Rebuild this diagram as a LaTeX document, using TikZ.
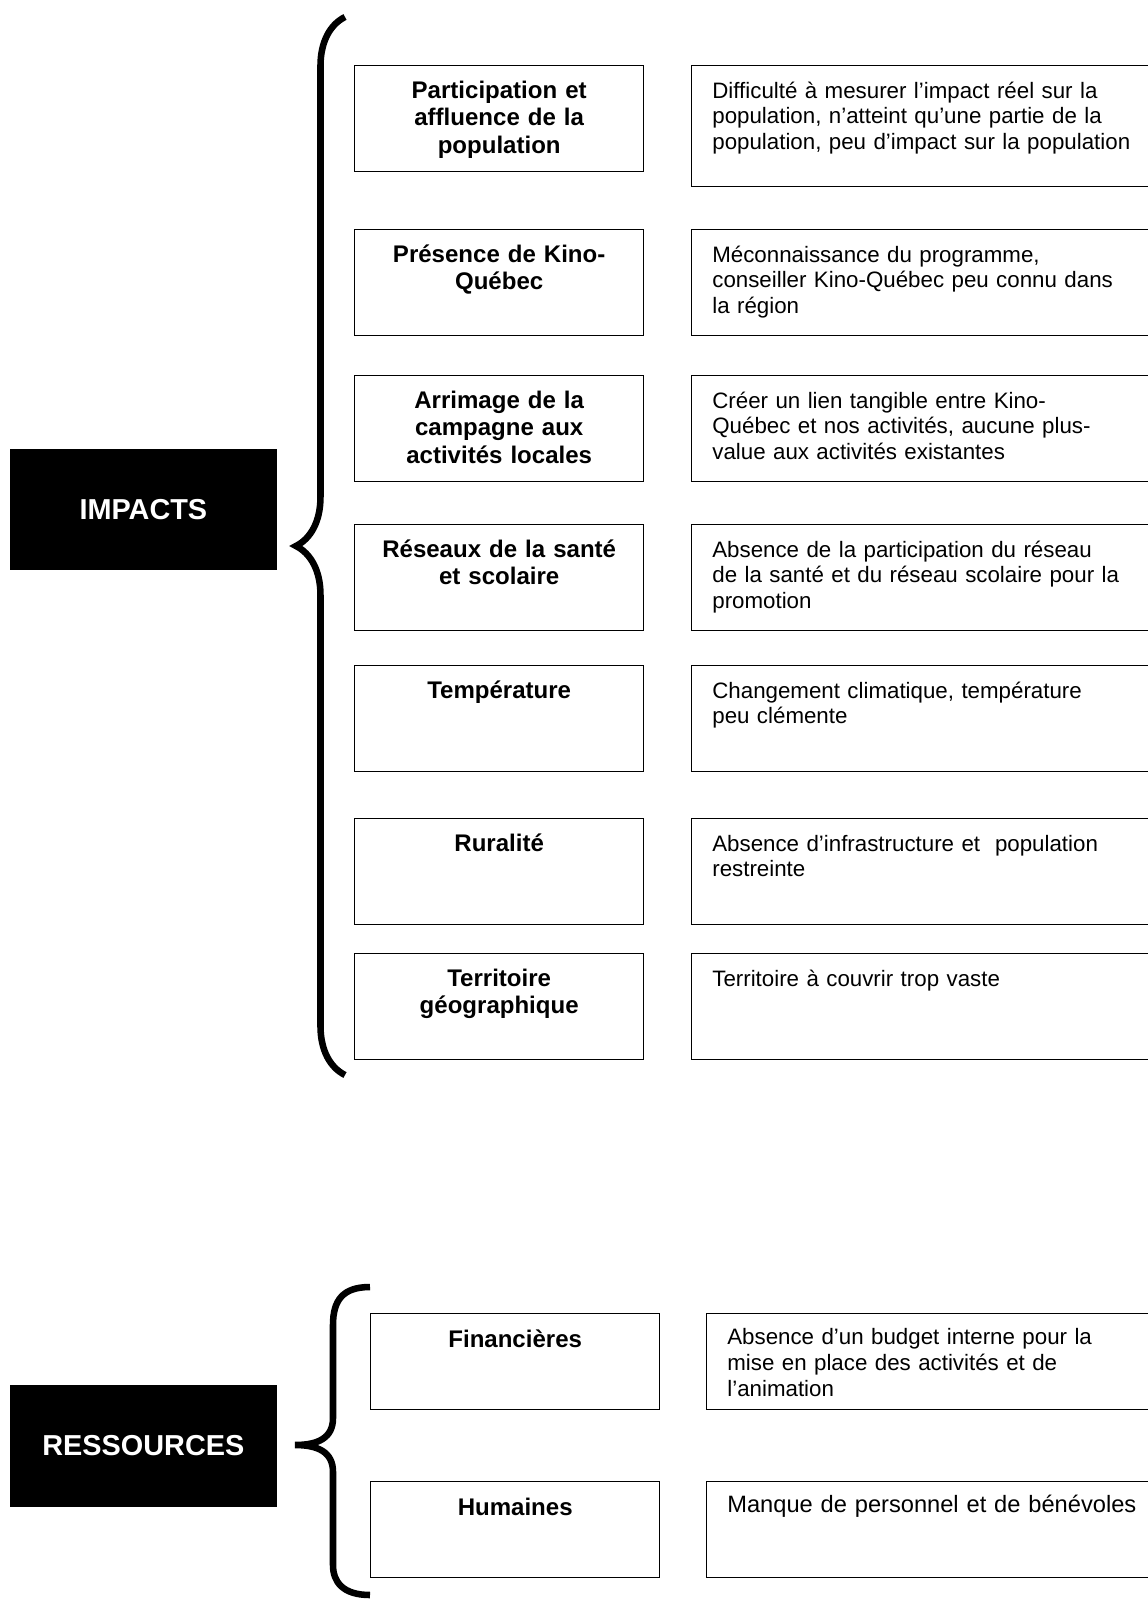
\documentclass[tikz,border=0pt]{standalone}
\usepackage{fontspec}
\setmainfont{Liberation Sans}
\usetikzlibrary{positioning, decorations.pathreplacing}

\begin{document}
\begin{tikzpicture}[
  x=0.52pt, y=-0.52pt,
  catbox/.style={rectangle, fill=black, draw=black, anchor=north west,
             minimum width=138.3pt, minimum height=62.4pt, inner sep=0pt,
             text=white, font=\fontsize{15}{18}\selectfont\bfseries},
  labbox/.style={rectangle, draw=black, line width=0.7pt, anchor=north west,
             minimum width=150.3pt, minimum height=55.1pt, inner sep=0pt},
  descbox/.style={labbox, minimum width=244pt},
  labtext/.style={anchor=base, inner sep=0pt, text width=150pt, align=center,
             font=\fontsize{12.5}{14.3}\selectfont\bfseries},
  desctext/.style={anchor=base west, inner sep=0pt, text width=232pt, align=left,
             font=\fontsize{11.6}{13.3}\selectfont},
  bigbrace/.style={decorate, line width=3.4pt,
             decoration={brace, amplitude=#1}}
]
\useasboundingbox (0,0) rectangle (1148,1600);

% categories
\node[catbox] (impacts) at (10,449) {IMPACTS};
\node[catbox, minimum height=62.9pt] (ressources) at (10,1385) {RESSOURCES};

% impacts
\node[labbox] (part) at (354,65) {};
\node[labtext] (partT) at ([yshift=-17.2pt]part.north) {Participation et\\affluence de la\\population};
\node[descbox, minimum height=62.9pt] (partD) at (691,65) {};
\node[desctext] (partDT) at ([xshift=10.9pt, yshift=-17.2pt]partD.north west) {Difficulté à mesurer l’impact réel sur la\\population, n’atteint qu’une partie de la\\population, peu d’impact sur la population};

\node[labbox] (pres) at (354,229) {};
\node[labtext] (presT) at ([yshift=-17.2pt]pres.north) {Présence de Kino-\\Québec};
\node[descbox] (presD) at (691,229) {};
\node[desctext] (presDT) at ([xshift=10.9pt, yshift=-17.2pt]presD.north west) {Méconnaissance du programme,\\conseiller Kino-Québec peu connu dans\\la région};

\node[labbox] (arri) at (354,375) {};
\node[labtext] (arriT) at ([yshift=-17.2pt]arri.north) {Arrimage de la\\campagne aux\\activités locales};
\node[descbox] (arriD) at (691,375) {};
\node[desctext] (arriDT) at ([xshift=10.9pt, yshift=-17.2pt]arriD.north west) {Créer un lien tangible entre Kino-\\Québec et nos activités, aucune plus-\\value aux activités existantes};

\node[labbox] (rese) at (354,524) {};
\node[labtext] (reseT) at ([yshift=-17.2pt]rese.north) {Réseaux de la santé\\et scolaire};
\node[descbox] (reseD) at (691,524) {};
\node[desctext] (reseDT) at ([xshift=10.9pt, yshift=-17.2pt]reseD.north west) {Absence de la participation du réseau\\de la santé et du réseau scolaire pour la\\promotion};

\node[labbox] (temp) at (354,665) {};
\node[labtext] (tempT) at ([yshift=-17.2pt]temp.north) {Température};
\node[descbox] (tempD) at (691,665) {};
\node[desctext] (tempDT) at ([xshift=10.9pt, yshift=-17.2pt]tempD.north west) {Changement climatique, température\\peu clémente};

\node[labbox] (rura) at (354,818) {};
\node[labtext] (ruraT) at ([yshift=-17.2pt]rura.north) {Ruralité};
\node[descbox] (ruraD) at (691,818) {};
\node[desctext] (ruraDT) at ([xshift=10.9pt, yshift=-17.2pt]ruraD.north west) {Absence d’infrastructure et~ population\\restreinte};

\node[labbox] (terr) at (354,953) {};
\node[labtext] (terrT) at ([yshift=-17.2pt]terr.north) {Territoire\\géographique};
\node[descbox] (terrD) at (691,953) {};
\node[desctext] (terrDT) at ([xshift=10.9pt, yshift=-17.2pt]terrD.north west) {Territoire à couvrir trop vaste};

% ressources
\node[labbox, minimum height=49.9pt] (fina) at (370,1313) {};
\node[labtext] (finaT) at ([yshift=-17.7pt]fina.north) {Financières};
\node[descbox, minimum width=236pt, minimum height=49.9pt] (finaD) at (706,1313) {};
\node[desctext] (finaDT) at ([xshift=10.9pt, yshift=-16.6pt]finaD.north west) {Absence d’un budget interne pour la\\mise en place des activités et de\\l’animation};

\node[labbox, minimum height=49.9pt] (huma) at (370,1481) {};
\node[labtext] (humaT) at ([yshift=-17.7pt]huma.north) {Humaines};
\node[descbox, minimum width=236pt, minimum height=49.9pt] (humaD) at (706,1481) {};
\node[desctext, font=\fontsize{12.3}{14}\selectfont] (humaDT) at ([xshift=10.9pt, yshift=-16.6pt]humaD.north west) {Manque de personnel et de bénévoles};

% braces
\coordinate (impBot) at (345,1075);
\coordinate (impTop) at (345,17);
\draw[bigbrace=25.5pt] (impBot) -- (impTop);

\coordinate (resTop) at (370,1287);
\coordinate (resTip) at (295,1445);
\coordinate (resBot) at (370,1595);
\draw[line width=3.4pt] (resTop) .. controls (343,1287) and (333,1300) .. (333,1325)
  -- (333,1418) .. controls (333,1438) and (318,1445) .. (resTip)
  .. controls (318,1445) and (333,1452) .. (333,1472)
  -- (333,1565) .. controls (333,1582) and (343,1595) .. (resBot);

\end{tikzpicture}
\end{document}
